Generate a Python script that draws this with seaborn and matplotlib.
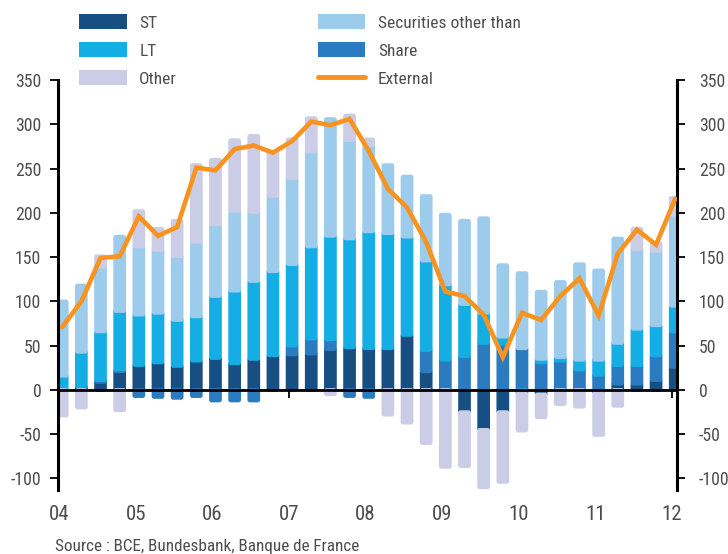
import numpy as np
import pandas as pd
import matplotlib
matplotlib.use("Agg")
import matplotlib.pyplot as plt
import seaborn as sns
from matplotlib.patches import FancyBboxPatch, Patch
from matplotlib.lines import Line2D

# ---- data (quarterly, 2004Q1 .. 2012Q1) ----
years_q = [2004 + i // 4 for i in range(33)]
quarter_no = [i % 4 + 1 for i in range(33)]
quarters = [f"{y}Q{q}" for y, q in zip(years_q, quarter_no)]

st = [0, 4, 9, 21, 28, 31, 27, 33, 36, 30, 35, 39, 40, 41, 46, 48, 47,
      47, 62, 21, 0, -25, -45, -25, 0, -5, 0, 0, -3, 7, 7, 11, 26]
share = [0, 0, 2, 2, -7, -8, -9, -7, -12, -12, -12, 0, 10, 17, 11, -7, -8,
         0, 0, 24, 34, 38, 53, 52, 47, 31, 33, 23, 17, 21, 21, 28, 40]
lt = [16, 39, 55, 66, 57, 56, 52, 50, 70, 82, 88, 95, 92, 104, 117, 123, 132,
      130, 111, 101, 85, 59, 34, 8, -4, 4, 4, 11, 17, 25, 41, 34, 29]
securities = [84, 75, 73, 84, 77, 71, 72, 84, 81, 90, 78, 85, 97, 107, 132, 111, 97,
              77, 68, 73, 79, 94, 107, 81, 85, 76, 85, 108, 101, 118, 90, 84, 103]
other = [-29, -20, 12, -23, 40, 24, 40, 87, 73, 80, 86, 49, 44, 38, -5, 28, 7,
         -28, -37, -60, -87, -61, -65, -79, -42, -26, -16, -19, -48, -18, 23, 9, 19]
external = [71, 100, 149, 151, 196, 174, 184, 251, 248, 272, 276, 268, 281, 303, 299, 306, 270,
            227, 206, 167, 111, 106, 85, 37, 87, 79, 106, 126, 84, 154, 181, 164, 216]

year_ticks = list(range(2004, 2013))
year_labels = [f"{y % 100:02d}" for y in year_ticks]

series_names = ["ST", "Share", "LT", "Securities other than", "Other"]
series_vals = [st, share, lt, securities, other]
colors = {
    "ST": "#174f82",
    "Share": "#2a7bbf",
    "LT": "#14aee5",
    "Securities other than": "#9dcbec",
    "Other": "#cbcce6",
}
ext_color = "#f7931e"

# ---- styling ----
sns.set_theme(style="white")
plt.rcParams["font.family"] = ["Roboto Condensed", "Liberation Sans Narrow",
                               "Roboto", "DejaVu Sans"]
txt = "#4d4d4d"

fig = plt.figure(figsize=(7.28, 5.54), dpi=100)
ax = fig.add_axes([58 / 728, 1 - 490 / 554, (677 - 58) / 728, (490 - 80) / 554])

xpos = np.array([y + (q - 1) * 0.25 + 0.04 for y, q in zip(years_q, quarter_no)])
xlim = (2003.985, 2012.063)
ylim = (-113, 350)
ax.set_xlim(*xlim)
ax.set_ylim(*ylim)

bar_w = 0.166
px_x = 619 / (xlim[1] - xlim[0])
px_y = 410 / (ylim[1] - ylim[0])
asp = px_x / px_y
pad = 1.8 / px_x

pos_b = np.zeros(len(xpos))
neg_b = np.zeros(len(xpos))
for name, vals in zip(series_names, series_vals):
    v = np.array(vals, dtype=float)
    bottom = np.where(v >= 0, pos_b, neg_b)
    bars = ax.bar(xpos, v, width=bar_w, bottom=bottom, color=colors[name],
                  linewidth=0, zorder=2)
    pos_b = pos_b + np.where(v > 0, v, 0)
    neg_b = neg_b + np.where(v < 0, v, 0)
    for r in list(bars.patches):
        x0, y0 = r.get_xy()
        w, h = r.get_width(), r.get_height()
        r.remove()
        if h == 0:
            continue
        if h < 0:
            y0, h = y0 + h, -h
        p = FancyBboxPatch((x0 + pad, y0), w - 2 * pad, h,
                           boxstyle=f"round,pad={pad},rounding_size={pad * 1.4}",
                           mutation_aspect=asp, fc=colors[name], ec="none", zorder=2)
        ax.add_patch(p)

ext_df = pd.DataFrame({"x": xpos, "External": external})
sns.lineplot(data=ext_df, x="x", y="External", ax=ax, color=ext_color,
             linewidth=3.3, zorder=4, legend=False)
for l in ax.lines:
    l.set_solid_joinstyle("miter")

# ---- axes ----
ax.spines["top"].set_visible(False)
for s in ["left", "right"]:
    ax.spines[s].set_color("black")
    ax.spines[s].set_linewidth(2.2)
ax.spines["bottom"].set_position(("data", 0))
ax.spines["bottom"].set_color("black")
ax.spines["bottom"].set_linewidth(2)
ax.spines["bottom"].set_zorder(5)

ax.set_yticks(range(-100, 351, 50))
ax.set_yticklabels([str(v) for v in range(-100, 351, 50)])
ax.tick_params(axis="y", which="major", left=True, right=True, labelleft=True,
               labelright=True, direction="out", length=6, width=1.3,
               color="black", labelcolor=txt, labelsize=12.8, pad=6)
for lab in ax.get_yticklabels(which="major"):
    pass
ax.yaxis.set_tick_params(which="major", pad=6)
for t in ax.yaxis.get_major_ticks():
    t.set_pad(6)
    t.label2.set_x(1.0)
# extra pad for right-hand labels
import matplotlib.transforms as mtransforms
offset = mtransforms.ScaledTranslation(5 / 100, 0, fig.dpi_scale_trans)
for t in ax.yaxis.get_major_ticks():
    t.label2.set_transform(t.label2.get_transform() + offset)

ax.set_xticks(year_ticks)
ax.set_xticklabels(year_labels)
ax.tick_params(axis="x", which="major", bottom=True, direction="out", length=6,
               width=1.3, color="black", labelcolor=txt, labelsize=15, pad=77)
ax.set_xlabel("")
ax.set_ylabel("")
ax.grid(False)

# ---- legend ----
handles = [Patch(fc=colors["ST"], ec="none"),
           Patch(fc=colors["LT"], ec="none"),
           Patch(fc=colors["Other"], ec="none"),
           Patch(fc=colors["Securities other than"], ec="none"),
           Patch(fc=colors["Share"], ec="none"),
           Line2D([0], [0], color=ext_color, lw=3.5)]
labels = ["ST", "LT", "Other", "Securities other than", "Share", "External"]
leg = fig.legend(handles, labels, ncol=2, loc="upper left",
                 bbox_to_anchor=(79 / 728, 1 - 14 / 554), frameon=False,
                 fontsize=12.5, handlelength=2.75, handleheight=0.98,
                 handletextpad=0.72, columnspacing=8.1, labelspacing=0.66,
                 borderpad=0, borderaxespad=0)
for t in leg.get_texts():
    t.set_color(txt)

fig.text(55 / 728, 1 - 547 / 554, "Source : BCE, Bundesbank, Banque de France",
         fontsize=12.3, color=txt, va="center", ha="left")

fig.savefig("out.png", dpi=100)
